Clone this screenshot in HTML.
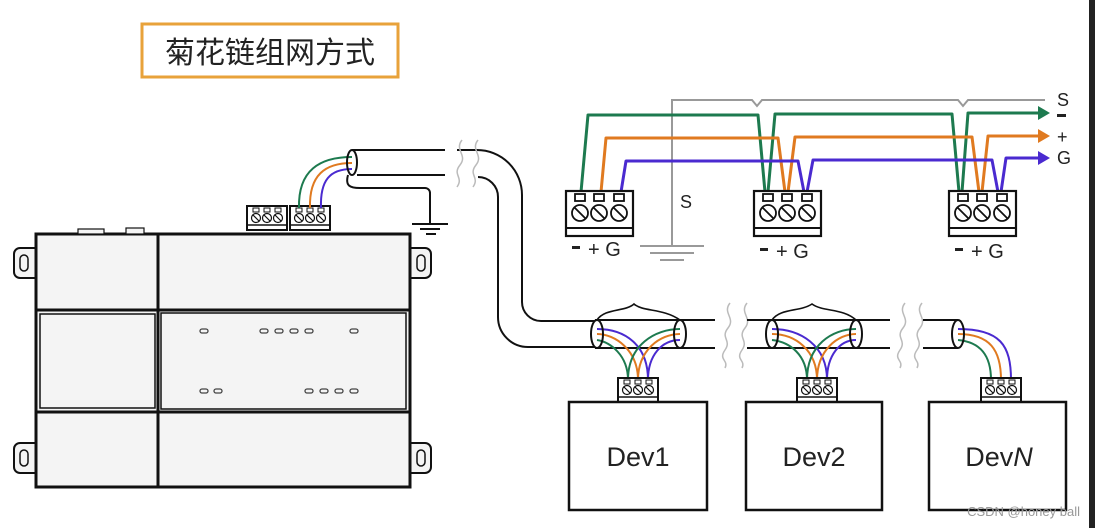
<!DOCTYPE html>
<html><head><meta charset="utf-8"><style>
html,body{margin:0;padding:0;background:#fff;}
svg{display:block;}
text{font-family:"Liberation Sans","Noto Sans CJK SC",sans-serif;}
</style></head><body>
<svg width="1095" height="528" viewBox="0 0 1095 528" xmlns="http://www.w3.org/2000/svg">
<defs>
<g id="tb">
  <rect x="0" y="0" width="40" height="24" fill="#fff" stroke="#111" stroke-width="2"/>
  <rect x="6" y="2" width="6" height="4" fill="none" stroke="#111" stroke-width="1"/>
  <rect x="17" y="2" width="6" height="4" fill="none" stroke="#111" stroke-width="1"/>
  <rect x="28" y="2" width="6" height="4" fill="none" stroke="#111" stroke-width="1"/>
  <circle cx="9" cy="12" r="4.5" fill="none" stroke="#111" stroke-width="1.2"/>
  <circle cx="20" cy="12" r="4.5" fill="none" stroke="#111" stroke-width="1.2"/>
  <circle cx="31" cy="12" r="4.5" fill="none" stroke="#111" stroke-width="1.2"/>
  <path d="M6 9l6 6M17 9l6 6M28 9l6 6" stroke="#111" stroke-width="1.2"/>
  <line x1="0" y1="19" x2="40" y2="19" stroke="#111" stroke-width="1.5"/>
</g>
<g id="tbb">
  <rect x="0" y="0" width="67" height="45" fill="#fff" stroke="#111" stroke-width="2.2"/>
  <rect x="9" y="3" width="10" height="7" fill="none" stroke="#111" stroke-width="1.8"/>
  <rect x="28" y="3" width="10" height="7" fill="none" stroke="#111" stroke-width="1.8"/>
  <rect x="48" y="3" width="10" height="7" fill="none" stroke="#111" stroke-width="1.8"/>
  <circle cx="14" cy="22" r="8" fill="none" stroke="#111" stroke-width="1.8"/>
  <circle cx="33" cy="22" r="8" fill="none" stroke="#111" stroke-width="1.8"/>
  <circle cx="53" cy="22" r="8" fill="none" stroke="#111" stroke-width="1.8"/>
  <path d="M8 16l12 12M27 16l12 12M47 16l12 12" stroke="#111" stroke-width="1.8"/>
  <line x1="0" y1="37" x2="67" y2="37" stroke="#111" stroke-width="2"/>
</g>
</defs>

<rect x="142" y="24" width="256" height="53" fill="#fff" stroke="#e8a23a" stroke-width="3"/>
<text x="270" y="63" font-size="30" text-anchor="middle" fill="#222">菊花链组网方式</text>

<g stroke="#111" fill="#f4f4f4">
  <path d="M36 248h-16a6 6 0 0 0-6 6v18a6 6 0 0 0 6 6h16z" stroke-width="2"/>
  <path d="M36 443h-16a6 6 0 0 0-6 6v18a6 6 0 0 0 6 6h16z" stroke-width="2"/>
  <path d="M409 248h16a6 6 0 0 1 6 6v18a6 6 0 0 1-6 6h-16z" stroke-width="2"/>
  <path d="M409 443h16a6 6 0 0 1 6 6v18a6 6 0 0 1-6 6h-16z" stroke-width="2"/>
  <rect x="20" y="255" width="8" height="16" rx="4" fill="none" stroke-width="1.5"/>
  <rect x="20" y="450" width="8" height="16" rx="4" fill="none" stroke-width="1.5"/>
  <rect x="417" y="255" width="8" height="16" rx="4" fill="none" stroke-width="1.5"/>
  <rect x="417" y="450" width="8" height="16" rx="4" fill="none" stroke-width="1.5"/>
  <rect x="36" y="234" width="374" height="253" stroke-width="3"/>
  <line x1="158" y1="234" x2="158" y2="487" stroke-width="3"/>
  <line x1="36" y1="310" x2="410" y2="310" stroke-width="3"/>
  <line x1="36" y1="412" x2="410" y2="412" stroke-width="3"/>
  <rect x="40" y="314" width="115" height="94" fill="none" stroke-width="1.5"/>
  <rect x="161" y="313" width="245" height="96" fill="none" stroke-width="1.5"/>
  <rect x="78" y="229" width="26" height="5" stroke-width="1.2"/>
  <rect x="126" y="228" width="18" height="6" stroke-width="1.2"/>
</g>
<g fill="none" stroke="#444" stroke-width="1.3">
  <rect x="200" y="329" width="8" height="4" rx="2"/>
  <rect x="260" y="329" width="8" height="4" rx="2"/><rect x="275" y="329" width="8" height="4" rx="2"/><rect x="290" y="329" width="8" height="4" rx="2"/><rect x="305" y="329" width="8" height="4" rx="2"/>
  <rect x="350" y="329" width="8" height="4" rx="2"/>
  <rect x="200" y="389" width="8" height="4" rx="2"/><rect x="214" y="389" width="8" height="4" rx="2"/>
  <rect x="305" y="389" width="8" height="4" rx="2"/><rect x="320" y="389" width="8" height="4" rx="2"/><rect x="335" y="389" width="8" height="4" rx="2"/><rect x="350" y="389" width="8" height="4" rx="2"/>
</g>
<use href="#tb" x="247" y="206"/>
<use href="#tb" x="290" y="206"/>

<g fill="none" stroke-width="2">
  <path d="M352 157 C320 157 298 170 299 208" stroke="#1d7a4f"/>
  <path d="M352 163 C325 163 309 175 310 208" stroke="#e07a20"/>
  <path d="M352 169 C330 169 320 180 321 208" stroke="#4a2ad0"/>
</g>
<g fill="none" stroke="#111" stroke-width="2">
  <ellipse cx="352" cy="162.5" rx="5" ry="12.5"/>
  <line x1="352" y1="150" x2="445" y2="150"/>
  <line x1="357" y1="175" x2="445" y2="175"/>
  <path d="M457 150 H477 A45 45 0 0 1 522 195 V302 A19 19 0 0 0 541 321 H595"/>
  <path d="M478 177 A20 20 0 0 1 498 197 V317 A30 30 0 0 0 528 347 H595"/>
  <path d="M348 175 C345 186 350 188 360 188 H425 a5 5 0 0 1 5 5 V223"/>
  <line x1="412" y1="224" x2="448" y2="224"/><line x1="420" y1="229" x2="440" y2="229"/><line x1="426" y1="234" x2="436" y2="234"/>
</g>
<g fill="none" stroke="#bbb" stroke-width="1.5">
  <path d="M462 140 c-8 10 6 15 -2 25 s4 12 -3 22"/>
  <path d="M478 140 c-8 10 6 15 -2 25 s4 12 -3 22"/>
  <path d="M730 303 c-8 10 6 15 -2 25 s4 12 -3 22 s4 10 0 18"/>
  <path d="M747 303 c-8 10 6 15 -2 25 s4 12 -3 22 s4 10 0 18"/>
  <path d="M905 303 c-8 10 6 15 -2 25 s4 12 -3 22 s4 10 0 18"/>
  <path d="M922 303 c-8 10 6 15 -2 25 s4 12 -3 22 s4 10 0 18"/>
</g>

<g fill="none" stroke="#111" stroke-width="2">
  <line x1="595" y1="320" x2="715" y2="320"/><line x1="595" y1="348" x2="715" y2="348"/>
  <line x1="747" y1="320" x2="890" y2="320"/><line x1="747" y1="348" x2="890" y2="348"/>
  <line x1="923" y1="320" x2="958" y2="320"/><line x1="923" y1="348" x2="958" y2="348"/>
</g>
<g fill="none" stroke="#111" stroke-width="1.6">
  <path d="M597 320 C605 308 625 312 634 304 C643 312 663 308 680 320"/>
  <path d="M772 320 C780 308 800 312 812 304 C823 312 843 308 856 320"/>
</g>
<g fill="none" stroke-width="2">
  <path d="M597 329 C625 329 648 345 648 380" stroke="#4a2ad0"/>
  <path d="M597 334 C615 334 638 350 638 380" stroke="#e07a20"/>
  <path d="M597 340 C610 342 628 355 628 380" stroke="#1d7a4f"/>
  <path d="M680 329 C655 329 628 345 628 380" stroke="#1d7a4f"/>
  <path d="M680 334 C660 334 638 350 638 380" stroke="#e07a20"/>
  <path d="M680 340 C662 340 648 355 648 380" stroke="#4a2ad0"/>
  <path d="M772 329 C800 329 827 345 827 380" stroke="#4a2ad0"/>
  <path d="M772 334 C795 334 817 350 817 380" stroke="#e07a20"/>
  <path d="M772 340 C790 342 807 355 807 380" stroke="#1d7a4f"/>
  <path d="M856 329 C832 329 807 345 807 380" stroke="#1d7a4f"/>
  <path d="M856 334 C838 334 817 350 817 380" stroke="#e07a20"/>
  <path d="M856 340 C840 340 827 355 827 380" stroke="#4a2ad0"/>
  <path d="M958 329 C1000 329 1011 345 1011 380" stroke="#4a2ad0"/>
  <path d="M958 334 C990 334 1001 350 1001 380" stroke="#e07a20"/>
  <path d="M958 340 C980 342 991 355 991 380" stroke="#1d7a4f"/>
</g>
<g fill="none" stroke="#111" stroke-width="2">
  <ellipse cx="597" cy="334" rx="6" ry="14"/>
  <ellipse cx="680" cy="334" rx="6" ry="14"/>
  <ellipse cx="772" cy="334" rx="6" ry="14"/>
  <ellipse cx="856" cy="334" rx="6" ry="14"/>
  <ellipse cx="958" cy="334" rx="6" ry="14"/>
</g>
<use href="#tb" x="618" y="378"/>
<use href="#tb" x="797" y="378"/>
<use href="#tb" x="981" y="378"/>

<g fill="#fff" stroke="#111" stroke-width="2.5">
  <rect x="569" y="402" width="138" height="108"/>
  <rect x="746" y="402" width="136" height="108"/>
  <rect x="929" y="402" width="137" height="108"/>
</g>
<g font-size="27" fill="#222" text-anchor="middle">
  <text x="638" y="466">Dev1</text>
  <text x="814" y="466">Dev2</text>
  <text x="999" y="466">Dev<tspan font-style="italic">N</tspan></text>
</g>
<text x="1080" y="516" font-size="13" fill="#999" text-anchor="end">CSDN @honey ball</text>

<g fill="none" stroke="#999" stroke-width="2">
  <path d="M672 245 V100 H752 l5 6 l5 -6 H958 l5 6 l5 -6 H1045"/>
  <line x1="640" y1="246" x2="704" y2="246"/><line x1="650" y1="253" x2="694" y2="253"/><line x1="660" y1="260" x2="684" y2="260"/>
</g>
<text x="680" y="208" font-size="18" fill="#222">S</text>
<g fill="none" stroke-width="3" stroke-linejoin="round">
  <path d="M581 192 L588 115 H758 L765 192" stroke="#1d7a4f"/>
  <path d="M768 192 L775 114 H952 L959 192" stroke="#1d7a4f"/>
  <path d="M962 192 L968 113 H1040" stroke="#1d7a4f"/>
  <path d="M601 192 L606 138 H778 L785 192" stroke="#e07a20"/>
  <path d="M788 192 L795 137 H972 L979 192" stroke="#e07a20"/>
  <path d="M982 192 L988 136 H1040" stroke="#e07a20"/>
  <path d="M621 192 L626 161 H798 L804 192" stroke="#4a2ad0"/>
  <path d="M807 192 L813 160 H992 L998 192" stroke="#4a2ad0"/>
  <path d="M1001 192 L1006 158 H1040" stroke="#4a2ad0"/>
</g>
<path d="M1038 106 l12 7 l-12 7z" fill="#1d7a4f"/>
<path d="M1038 129 l12 7 l-12 7z" fill="#e07a20"/>
<path d="M1038 151 l12 7 l-12 7z" fill="#4a2ad0"/>
<g font-size="18" fill="#222">
  <text x="1057" y="106">S</text>
  <rect x="1057" y="114" width="9" height="3" fill="#222"/>
  <text x="1057" y="143">+</text>
  <text x="1057" y="164">G</text>
</g>
<use href="#tbb" x="566" y="191"/>
<use href="#tbb" x="754" y="191"/>
<use href="#tbb" x="949" y="191"/>
<g font-size="20" fill="#222">
  <rect x="572" y="246" width="8" height="3"/><text x="588" y="256">+ G</text>
  <rect x="760" y="248" width="8" height="3"/><text x="776" y="258">+ G</text>
  <rect x="955" y="248" width="8" height="3"/><text x="971" y="258">+ G</text>
</g>
<rect x="1089" y="0" width="6" height="528" fill="#222"/>
</svg>
</body></html>
